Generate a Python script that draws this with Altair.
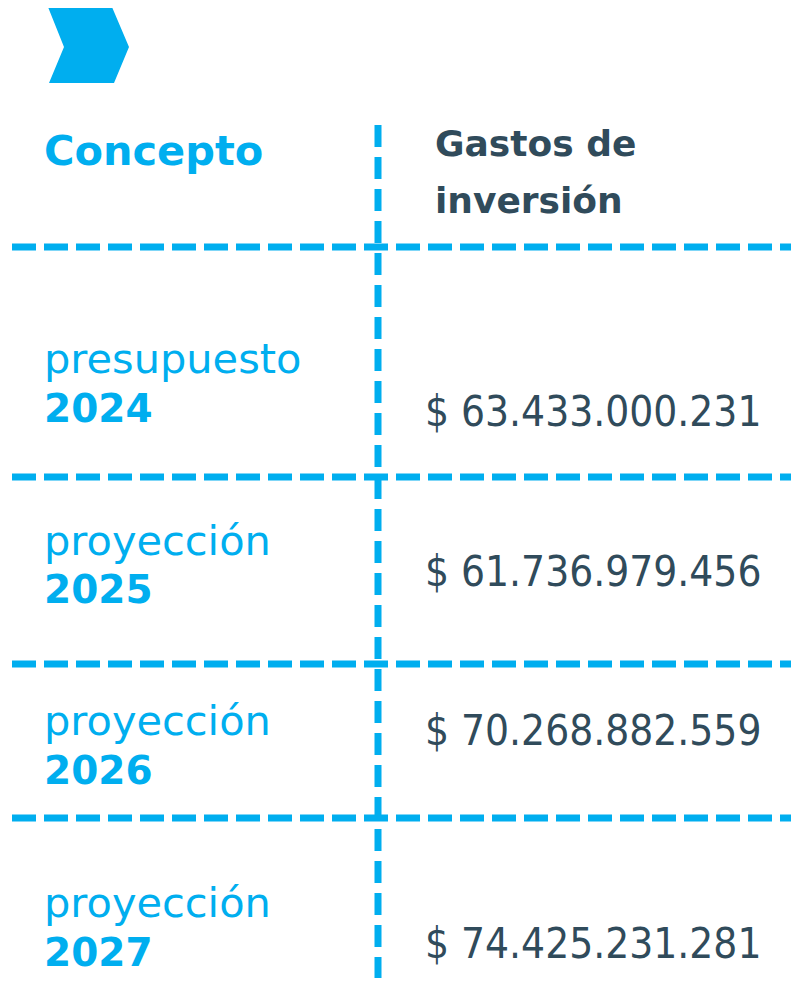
import altair as alt
import pandas as pd

# ---- data ----
header_left = "Concepto"
header_right = ["Gastos de", "inversión"]
concepts = ["presupuesto", "proyección", "proyección", "proyección"]
years = ["2024", "2025", "2026", "2027"]
values = ["$ 63.433.000.231", "$ 61.736.979.456", "$ 70.268.882.559", "$ 74.425.231.281"]

BLUE = "#00AEEF"
DARK = "#304B5B"
W, H = 783, 970

# ---- layout (pixel positions inside the plot area) ----
label_x = 36
value_x = 417
concept_base = [365, 547, 727, 909]
year_base = [414, 595, 776, 958]
value_base = [418, 578, 737, 950]
sep_y = [239, 469, 656, 810]
vline_x = 370

xs = alt.Scale(domain=[0, W], nice=False, zero=False)
ys = alt.Scale(domain=[0, H], reverse=True, nice=False, zero=False)
noax = dict(axis=None)

def X(field="x"):
    return alt.X(f"{field}:Q", scale=xs, **noax)

def Y(field="y"):
    return alt.Y(f"{field}:Q", scale=ys, **noax)

# chevron
chev_df = pd.DataFrame({"x": [80.5], "y": [37]})
chev_path = "M -1 -0.938 L 0.58 -0.938 L 1 0.049 L 0.63 0.938 L -0.975 0.938 L -0.605 0.049 Z"
chevron = alt.Chart(chev_df).mark_point(
    shape=chev_path, filled=True, size=6561, color=BLUE, opacity=1, strokeWidth=0
).encode(x=X(), y=Y())

# dashed separators
h_df = pd.DataFrame({"x": [4] * len(sep_y), "x2": [W + 10] * len(sep_y), "y": sep_y})
hlines = alt.Chart(h_df).mark_rule(
    color=BLUE, strokeWidth=7, strokeDash=[24, 8]
).encode(x=X(), x2="x2:Q", y=Y())

v_df = pd.DataFrame({"x": [vline_x], "y": [117], "y2": [H + 10]})
vline = alt.Chart(v_df).mark_rule(
    color=BLUE, strokeWidth=7, strokeDash=[22, 10]
).encode(x=X(), y=Y(), y2="y2:Q")

# header texts
hl_df = pd.DataFrame({"x": [label_x], "y": [157], "t": [header_left]})
hl = alt.Chart(hl_df).mark_text(
    align="left", baseline="alphabetic", font="DejaVu Sans", fontWeight="bold",
    fontSize=41.5, color=BLUE
).encode(x=X(), y=Y(), text="t:N")

hr_df = pd.DataFrame({"x": [value_x + 10, value_x + 10], "y": [148, 205], "t": header_right})
hr = alt.Chart(hr_df).mark_text(
    align="left", baseline="alphabetic", font="DejaVu Sans", fontWeight="bold",
    fontSize=36, color=DARK
).encode(x=X(), y=Y(), text="t:N")

# row labels
c_df = pd.DataFrame({"x": [label_x] * 4, "y": concept_base, "t": concepts})
ctext = alt.Chart(c_df).mark_text(
    align="left", baseline="alphabetic", font="DejaVu Sans", fontSize=41.5, color=BLUE
).encode(x=X(), y=Y(), text="t:N")

y_df = pd.DataFrame({"x": [label_x] * 4, "y": year_base, "t": years})
ytext = alt.Chart(y_df).mark_text(
    align="left", baseline="alphabetic", font="DejaVu Sans", fontWeight="bold",
    fontSize=39, color=BLUE
).encode(x=X(), y=Y(), text="t:N")

v_text_df = pd.DataFrame({"x": [value_x] * 4, "y": value_base, "t": values})
vtext = alt.Chart(v_text_df).mark_text(
    align="left", baseline="alphabetic", font="DejaVu Sans Condensed", fontSize=42, color=DARK
).encode(x=X(), y=Y(), text="t:N")

chart = alt.layer(chevron, hlines, vline, hl, hr, ctext, ytext, vtext).properties(
    width=W, height=H, padding=0, autosize=alt.AutoSizeParams(type="none")
).configure_view(strokeWidth=0, stroke="transparent", clip=False)

chart.save("out.html", embed_options={"renderer": "svg", "actions": False})
